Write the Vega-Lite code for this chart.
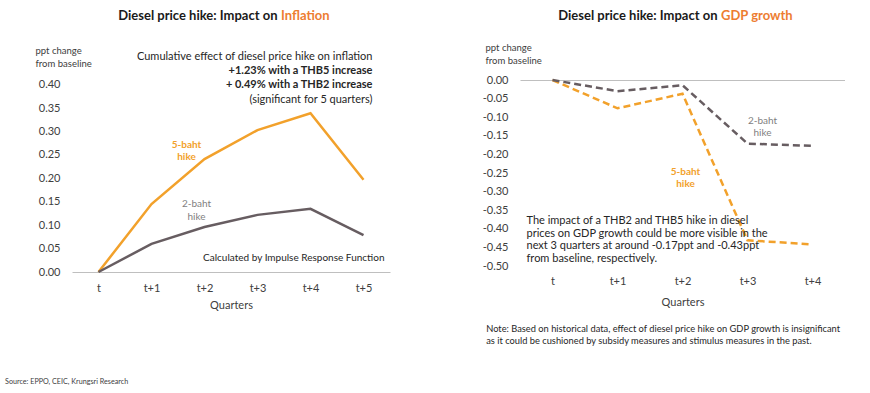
{
  "$schema": "https://vega.github.io/schema/vega-lite/v6.json",
  "padding": {"left": 5, "top": 9, "right": 0, "bottom": 0},
  "config": {
    "font": "Lato",
    "view": {"stroke": null},
    "axis": {"labelFont": "Lato", "titleFont": "Lato", "labelColor": "#404040", "titleColor": "#404040", "ticks": false, "grid": false, "labelFontSize": 11, "titleFontSize": 11, "titleFontWeight": "normal"},
    "text": {"font": "Lato"}
  },
  "title": {"text": "Source: EPPO, CEIC, Krungsri Research", "orient": "bottom", "anchor": "start", "frame": "bounds", "fontSize": 7.2, "fontWeight": "normal", "color": "#404040", "font": "Lato", "dx": -30, "offset": 32},
  "datasets": {
    "inflation": [
      {"q": "t", "series": "5-baht", "v": 0},
      {"q": "t+1", "series": "5-baht", "v": 0.145},
      {"q": "t+2", "series": "5-baht", "v": 0.241},
      {"q": "t+3", "series": "5-baht", "v": 0.303},
      {"q": "t+4", "series": "5-baht", "v": 0.339},
      {"q": "t+5", "series": "5-baht", "v": 0.197},
      {"q": "t", "series": "2-baht", "v": 0},
      {"q": "t+1", "series": "2-baht", "v": 0.060},
      {"q": "t+2", "series": "2-baht", "v": 0.096},
      {"q": "t+3", "series": "2-baht", "v": 0.122},
      {"q": "t+4", "series": "2-baht", "v": 0.135},
      {"q": "t+5", "series": "2-baht", "v": 0.079}
    ],
    "gdp": [
      {"q": "t", "series": "5-baht", "v": 0},
      {"q": "t+1", "series": "5-baht", "v": -0.076},
      {"q": "t+2", "series": "5-baht", "v": -0.037},
      {"q": "t+3", "series": "5-baht", "v": -0.431},
      {"q": "t+4", "series": "5-baht", "v": -0.442},
      {"q": "t", "series": "2-baht", "v": 0},
      {"q": "t+1", "series": "2-baht", "v": -0.030},
      {"q": "t+2", "series": "2-baht", "v": -0.014},
      {"q": "t+3", "series": "2-baht", "v": -0.171},
      {"q": "t+4", "series": "2-baht", "v": -0.177}
    ],
    "inflationNotes": [
      {"role": "title", "q": "t+4", "v": 0.547, "text": "Diesel price hike: Impact on"},
      {"role": "titleword", "q": "t+4", "v": 0.547, "text": "Inflation"},
      {"role": "note", "q": "t+5", "v": 0.459, "text": "Cumulative effect of diesel price hike on inflation"},
      {"role": "bold", "q": "t+5", "v": 0.429, "text": "+1.23% with a THB5 increase"},
      {"role": "bold", "q": "t+5", "v": 0.399, "text": "+ 0.49% with a THB2 increase"},
      {"role": "note", "q": "t+5", "v": 0.367, "text": "(significant for 5 quarters)"},
      {"role": "calc", "q": "t+5", "v": 0.030, "text": "Calculated by Impulse Response Function"},
      {"role": "label5", "q": "t+2", "v": 0.271, "text": "5-baht\nhike"},
      {"role": "label2", "q": "t+2", "v": 0.145, "text": "2-baht\nhike"}
    ],
    "gdpNotes": [
      {"role": "title", "q": "t+3", "v": 0.172, "text": "Diesel price hike: Impact on"},
      {"role": "titleword", "q": "t+3", "v": 0.172, "text": "GDP growth"},
      {"role": "label2", "q": "t+3", "v": -0.110, "text": "2-baht\nhike"},
      {"role": "label5", "q": "t+2", "v": -0.247, "text": "5-baht\nhike"},
      {"role": "impact", "q": "t", "v": -0.379, "text": "The impact of a THB2 and THB5 hike in diesel\nprices on GDP growth could be more visible in the\nnext 3 quarters at around -0.17ppt and -0.43ppt\nfrom baseline, respectively."}
    ]
  },
  "spacing": 92,
  "hconcat": [
    {
      "width": 318,
      "height": 192,
      "encoding": {
        "x": {"field": "q", "type": "ordinal", "sort": ["t", "t+1", "t+2", "t+3", "t+4", "t+5"], "scale": {"domain": ["t", "t+1", "t+2", "t+3", "t+4", "t+5"]}, "axis": {"labelAngle": 0, "title": "Quarters", "domainColor": "#BFBFBF", "labelPadding": 10, "titlePadding": 6}},
        "y": {"field": "v", "type": "quantitative", "scale": {"domain": [0, 0.41], "nice": false}, "axis": {"values": [0, 0.05, 0.1, 0.15, 0.2, 0.25, 0.3, 0.35, 0.4], "format": ".2f", "domain": false, "labelPadding": 12, "title": ["ppt change", "from baseline"], "titleAngle": 0, "titleAlign": "left", "titleBaseline": "top", "titleX": -37, "titleY": -35, "titleFontSize": 9.5, "titleLineHeight": 13}}
      },
      "layer": [
        {
          "data": {"name": "inflation"},
          "mark": {"type": "line", "strokeWidth": 2.5},
          "encoding": {"color": {"field": "series", "type": "nominal", "scale": {"domain": ["5-baht", "2-baht"], "range": ["#F2A12B", "#675D61"]}, "legend": null}}
        },
        {
          "data": {"name": "inflationNotes"},
          "transform": [{"filter": "datum.role == 'title'"}],
          "mark": {"type": "text", "align": "right", "baseline": "middle", "dx": -33, "fontSize": 13, "fontWeight": "bold", "color": "#1a1a1a"},
          "encoding": {"text": {"field": "text", "type": "nominal"}}
        },
        {
          "data": {"name": "inflationNotes"},
          "transform": [{"filter": "datum.role == 'titleword'"}],
          "mark": {"type": "text", "align": "left", "baseline": "middle", "dx": -29.5, "fontSize": 13, "fontWeight": "bold", "color": "#ED7D31"},
          "encoding": {"text": {"field": "text", "type": "nominal"}}
        },
        {
          "data": {"name": "inflationNotes"},
          "transform": [{"filter": "datum.role == 'note'"}],
          "mark": {"type": "text", "align": "right", "baseline": "middle", "dx": 9, "fontSize": 11, "color": "#262626"},
          "encoding": {"text": {"field": "text", "type": "nominal"}}
        },
        {
          "data": {"name": "inflationNotes"},
          "transform": [{"filter": "datum.role == 'bold'"}],
          "mark": {"type": "text", "align": "right", "baseline": "middle", "dx": 9, "fontSize": 11, "fontWeight": "bold", "color": "#262626"},
          "encoding": {"text": {"field": "text", "type": "nominal"}}
        },
        {
          "data": {"name": "inflationNotes"},
          "transform": [{"filter": "datum.role == 'calc'"}],
          "mark": {"type": "text", "align": "right", "baseline": "middle", "dx": 21, "fontSize": 10, "color": "#262626"},
          "encoding": {"text": {"field": "text", "type": "nominal"}}
        },
        {
          "data": {"name": "inflationNotes"},
          "transform": [{"filter": "datum.role == 'label5'"}],
          "mark": {"type": "text", "align": "center", "baseline": "middle", "dx": -18, "fontSize": 10, "fontWeight": "bold", "color": "#F2A12B", "lineBreak": "\n", "lineHeight": 12},
          "encoding": {"text": {"field": "text", "type": "nominal"}}
        },
        {
          "data": {"name": "inflationNotes"},
          "transform": [{"filter": "datum.role == 'label2'"}],
          "mark": {"type": "text", "align": "center", "baseline": "middle", "dx": -8, "fontSize": 10, "color": "#7F7F7F", "lineBreak": "\n", "lineHeight": 13},
          "encoding": {"text": {"field": "text", "type": "nominal"}}
        }
      ]
    },
    {
      "title": {"text": ["Note: Based on historical data, effect of diesel price hike on GDP growth is insignificant", "as it could be cushioned by subsidy measures and stimulus measures in the past."], "orient": "bottom", "anchor": "start", "frame": "bounds", "font": "Lato", "fontSize": 9.3, "fontWeight": "normal", "color": "#262626", "lineHeight": 12, "dx": 4, "offset": 18},
      "vconcat": [
        {
          "width": 325,
          "height": 186,
          "encoding": {
            "x": {"field": "q", "type": "ordinal", "sort": ["t", "t+1", "t+2", "t+3", "t+4"], "scale": {"domain": ["t", "t+1", "t+2", "t+3", "t+4"]}, "axis": {"labelAngle": 0, "title": "Quarters", "domain": false, "labelPadding": 9, "titlePadding": 10}},
            "y": {"field": "v", "type": "quantitative", "scale": {"domain": [-0.5, 0], "nice": false}, "axis": {"values": [-0.5, -0.45, -0.4, -0.35, -0.3, -0.25, -0.2, -0.15, -0.1, -0.05, 0], "labelExpr": "replace(format(datum.value, '.2f'), '\u2212', '-')", "domain": false, "labelPadding": 12, "grid": true, "gridColor": {"condition": {"test": "abs(datum.value) < 0.0001", "value": "#BFBFBF"}, "value": "transparent"}, "title": ["ppt change", "from baseline"], "titleAngle": 0, "titleAlign": "left", "titleBaseline": "top", "titleX": -35, "titleY": -38, "titleFontSize": 9.5, "titleLineHeight": 13}}
          },
          "layer": [
            {
              "data": {"name": "gdp"},
              "mark": {"type": "line", "strokeWidth": 2.5, "strokeDash": [7, 4]},
              "encoding": {"color": {"field": "series", "type": "nominal", "scale": {"domain": ["5-baht", "2-baht"], "range": ["#F2A12B", "#675D61"]}, "legend": null}}
            },
            {
              "data": {"name": "gdpNotes"},
              "transform": [{"filter": "datum.role == 'title'"}],
              "mark": {"type": "text", "align": "right", "baseline": "middle", "dx": -30, "fontSize": 13, "fontWeight": "bold", "color": "#1a1a1a"},
              "encoding": {"text": {"field": "text", "type": "nominal"}}
            },
            {
              "data": {"name": "gdpNotes"},
              "transform": [{"filter": "datum.role == 'titleword'"}],
              "mark": {"type": "text", "align": "left", "baseline": "middle", "dx": -26.5, "fontSize": 13, "fontWeight": "bold", "color": "#ED7D31"},
              "encoding": {"text": {"field": "text", "type": "nominal"}}
            },
            {
              "data": {"name": "gdpNotes"},
              "transform": [{"filter": "datum.role == 'label2'"}],
              "mark": {"type": "text", "align": "center", "baseline": "middle", "dx": 15, "fontSize": 10, "color": "#7F7F7F", "lineBreak": "\n", "lineHeight": 12},
              "encoding": {"text": {"field": "text", "type": "nominal"}}
            },
            {
              "data": {"name": "gdpNotes"},
              "transform": [{"filter": "datum.role == 'label5'"}],
              "mark": {"type": "text", "align": "center", "baseline": "middle", "dx": 3, "fontSize": 10, "fontWeight": "bold", "color": "#F2A12B", "lineBreak": "\n", "lineHeight": 12},
              "encoding": {"text": {"field": "text", "type": "nominal"}}
            },
            {
              "data": {"name": "gdpNotes"},
              "transform": [{"filter": "datum.role == 'impact'"}],
              "mark": {"type": "text", "align": "left", "baseline": "middle", "dx": -26, "fontSize": 11, "color": "#262626", "lineBreak": "\n", "lineHeight": 12.7},
              "encoding": {"text": {"field": "text", "type": "nominal"}}
            }
          ]
        }
      ]
    }
  ]
}
